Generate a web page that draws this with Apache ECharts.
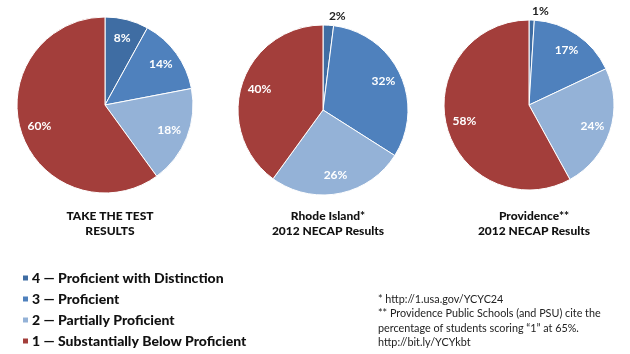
<!DOCTYPE html>
<html><head><meta charset="utf-8">
<script src="https://cdn.jsdelivr.net/npm/echarts@6/dist/echarts.min.js"></script>
<style>html,body{margin:0;padding:0;background:#fff}#c{width:630px;height:354px}</style>
</head><body><div id="c"></div>
<script>
const levels = ['4 — Proficient with Distinction','3 — Proficient','2 — Partially Proficient','1 — Substantially Below Proficient'];
const levelColors = ['#3f6da3','#4f81bd','#94b2d7','#a33e3b'];
const takeTheTest = [8, 14, 18, 60];
const rhodeIsland = [2, 32, 26, 40];
const providence = [1, 17, 24, 58];
const pieTitles = ['TAKE THE TEST\nRESULTS','Rhode Island*\n2012 NECAP Results','Providence**\n2012 NECAP Results'];
const footnotes = ['* http://1.usa.gov/YCYC24','** Providence Public Schools (and PSU) cite the','percentage of students scoring “1” at 65%.','http://bit.ly/YCYkbt'];

const FONT = 'Lato, "Open Sans", sans-serif';
const pies = [
  {vals: takeTheTest, c: [105,105], r: 88},
  {vals: rhodeIsland, c: [323,110], r: 85},
  {vals: providence, c: [529,105], r: 85}
];
const series = [];
pies.forEach((p, pi) => {
  series.push({
    type: 'pie', center: p.c, radius: [0, p.r], startAngle: 90, clockwise: true,
    label: {show: false}, labelLine: {show: false}, silent: true,
    itemStyle: {borderColor: '#fff', borderWidth: 1},
    data: p.vals.map((v, i) => ({name: levels[i], value: v, itemStyle: {color: levelColors[i]}}))
  });
  series.push({
    type: 'pie', center: p.c, radius: [p.r * 0.5, p.r], startAngle: 90, clockwise: true, silent: true,
    itemStyle: {color: 'rgba(0,0,0,0)', borderWidth: 0},
    label: {show: true, position: 'inside', formatter: '{c}%', color: '#fff', fontFamily: FONT, fontWeight: 'bold', fontSize: 12},
    labelLine: {show: false},
    data: p.vals.map((v, i) => {
      const d = {name: levels[i], value: v};
      if (v < 5) {
        d.label = {position: 'outside', color: '#222', distanceToLabelLine: 0};
        d.labelLine = {show: false, length: 9, length2: 0};
      }
      return d;
    })
  });
});

const titles = pieTitles.map((t, i) => ({
  text: t, left: pies[i].c[0], top: 204, textAlign: 'center',
  textStyle: {fontFamily: FONT, fontWeight: 900, fontSize: 12, color: '#111', lineHeight: 15}
}));

const chart = echarts.init(document.getElementById('c'));
chart.setOption({
  backgroundColor: '#fff',
  animation: false,
  title: titles,
  legend: {
    orient: 'vertical', left: 16, top: 266, height: 88, itemWidth: 7, itemHeight: 7, itemGap: 7,
    icon: 'rect', selectedMode: false, data: levels,
    textStyle: {fontFamily: FONT, fontWeight: 900, fontSize: 14, color: '#111', lineHeight: 14, padding: [0,0,0,-2]}
  },
  graphic: footnotes.map((t, i) => ({
    type: 'text', left: 378, top: 294 + i * 14.3,
    style: {text: t, fontFamily: FONT, fontSize: 10.8, fill: '#222'}
  })),
  series: series
});
</script></body></html>
